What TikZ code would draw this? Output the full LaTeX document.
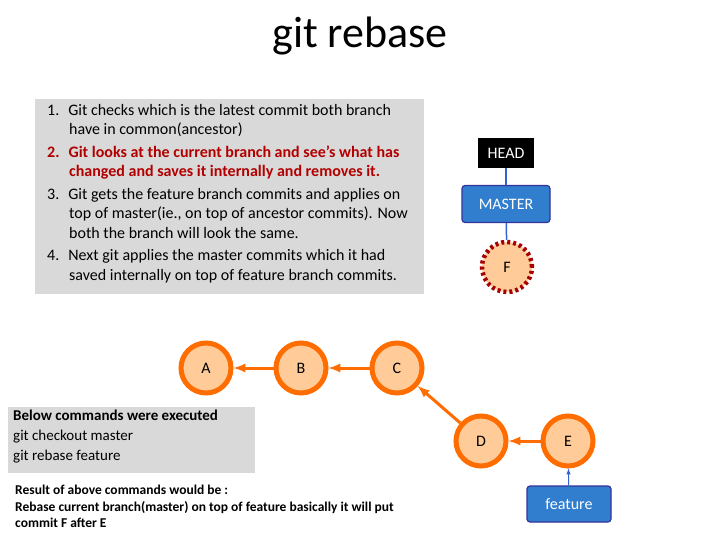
\documentclass[tikz,border=0pt]{standalone}
\usepackage{fontspec}
\setmainfont{Carlito}
\begin{document}
\begin{tikzpicture}[x=1pt,y=-1pt,
  commit/.style={circle,draw=orange!85!red,line width=5pt,fill=orange!40,minimum size=50pt,inner sep=0pt,font=\fontsize{16}{18}\selectfont},
  branch/.style={rectangle,rounded corners=3pt,draw=blue!50!black!80,line width=1.2pt,fill=blue!45!gray!70!cyan,text=white,font=\fontsize{16}{18}\selectfont},
  parent/.style={->,>=latex,line width=3pt,draw=orange!85!red},
  ref/.style={->,>=latex,line width=1pt,draw=blue!50!gray!80!cyan},
  txt/.style={anchor=north west,align=left,inner sep=0pt}]
\useasboundingbox (0,0) rectangle (720,540);
\node (title) at (360,36) {\fontsize{44}{46}\selectfont git rebase};
% steps box
\fill[gray!30] (35,99) rectangle (424,294);
\node[txt,font=\fontsize{16}{19.5}\selectfont] (steps) at (47,104) {%
1.\hspace{9pt}Git checks which is the latest commit both branch\\
\hspace{22pt}have in common(ancestor)\\[3pt]
{\color{red!70!black}\bfseries 2.\hspace{9pt}Git looks at the current branch and see's what has}\\
{\color{red!70!black}\bfseries\hspace{22pt}changed and saves it internally and removes it.}\\[3pt]
3.\hspace{9pt}Git gets the feature branch commits and applies on\\
\hspace{22pt}top of master(ie., on top of ancestor commits). Now\\
\hspace{22pt}both the branch will look the same.\\[3pt]
4.\hspace{9pt}Next git applies the master commits which it had\\
\hspace{22pt}saved internally on top of feature branch commits.};
% commands box
\fill[gray!30] (8,407) rectangle (255,473);
\node[txt,font=\fontsize{15}{20}\selectfont] (cmds) at (13,410) {%
\textbf{Below commands were executed}\\
git checkout master\\
git rebase feature};
\node[txt,font=\fontsize{13.5}{16.5}\selectfont] (result) at (15,485) {%
\textbf{Result of above commands would be :}\\
\textbf{Rebase current branch(master) on top of feature basically it will put}\\
\textbf{commit F after E}};
% commits
\node[commit] (A) at (206,368) {A};
\node[commit] (B) at (301,368) {B};
\node[commit] (C) at (397,368) {C};
\node[commit] (D) at (481,441) {D};
\node[commit] (E) at (568,441) {E};
\node[commit,draw=red!65!black,dash pattern=on 3pt off 3pt,line width=4.5pt] (F) at (507,267) {F};
\draw[parent] (B) -- (A);
\draw[parent] (C) -- (B);
\draw[parent] (D) -- (C);
\draw[parent] (E) -- (D);
% refs
\node[fill=black,text=white,minimum width=56pt,minimum height=30pt,font=\fontsize{16}{18}\selectfont] (head) at (506,153) {HEAD};
\node[branch,minimum width=88pt,minimum height=37pt] (master) at (506,204) {MASTER};
\node[branch,minimum width=84pt,minimum height=36pt] (feature) at (569,504) {feature};
\draw[line width=1.5pt,draw=blue!50!gray!80!cyan] (head) -- (master);
\draw[line width=1.5pt,draw=blue!50!gray!80!cyan] (master) -- (F);
\draw[ref] (feature) -- (E);
\end{tikzpicture}
\end{document}
